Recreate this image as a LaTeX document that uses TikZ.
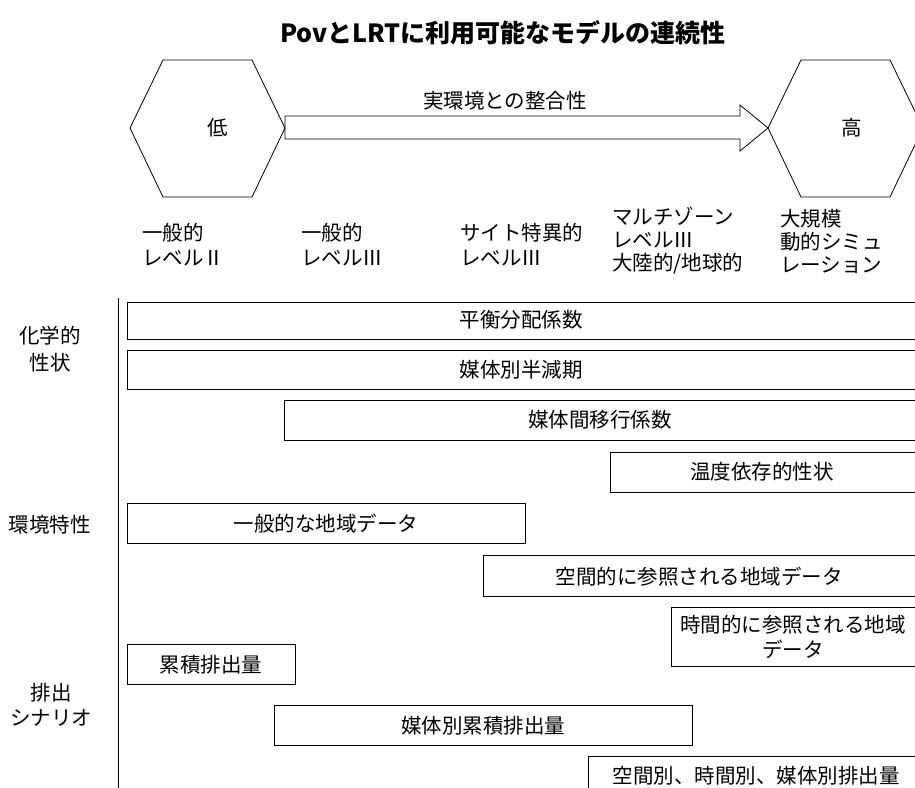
\documentclass[tikz,border=0pt]{standalone}
\usepackage{fontspec}
\setmainfont{Noto Sans CJK JP}
\usetikzlibrary{shadows}

\tikzset{
  bar/.style={draw, line width=0.9pt, fill=white, anchor=north west, inner sep=0pt,
    drop shadow={shadow xshift=1pt, shadow yshift=-1pt, fill=black!60, opacity=0.7}},
  txt/.style={inner sep=0pt, font=\fontsize{20.5}{24}\selectfont},
  hdr/.style={txt, anchor=west, align=left, font=\fontsize{20.5}{23}\selectfont}
}

\begin{document}
\begin{tikzpicture}[x=1pt,y=1pt,yscale=-1]
\clip (0,0) rectangle (915,787);
\fill [white] (0,0) rectangle (915,787);

% Title
\node (title) [txt, font=\bfseries\fontsize{25}{29}\selectfont] at (503,33) {PovとLRTに利用可能なモデルの連続性};

%Shape: Hexagon (low)
\draw [line width=0.8pt] (130,128) -- (163,60) -- (252,60) -- (285,128) -- (252,197) -- (163,197) -- cycle ;
%Shape: Hexagon (high)
\draw [line width=0.8pt] (768,128) -- (801,60) -- (890,60) -- (923,128) -- (890,197) -- (801,197) -- cycle ;
%Shape: Right Arrow
\draw [line width=0.8pt] (285,116) -- (740,116) -- (740,105) -- (768,128) -- (740,151) -- (740,139) -- (285,139) -- cycle ;

% Text Node
\node (low) [txt] at (218,128) {低};
\node (high) [txt] at (852,128) {高};
\node (fit) [txt] at (505,101) {実環境との整合性};

% Column headers
\node (c1) [hdr] at (142,245) {一般的\\[2pt]レベルⅡ};
\node (c2) [hdr] at (301,245) {一般的\\[2pt]レベルⅢ};
\node (c3) [hdr] at (460,245) {サイト特異的\\[2pt]レベルⅢ};
\node (c4) [hdr] at (612,241) {マルチゾーン\\レベルⅢ\\大陸的/地球的};
\node (c5) [hdr] at (780,241) {大規模\\動的シミュ\\レーション};

% Row labels
\draw [line width=0.8pt] (118,298) -- (118,790) ;
\node (chem) [txt, align=center, font=\fontsize{20.5}{27}\selectfont] at (50,349) {化学的\\性状};
\node (env) [txt] at (50,525) {環境特性};
\node (emit) [txt, align=center, font=\fontsize{20.5}{25}\selectfont] at (51,705) {排出\\シナリオ};

% Bars
\node (kd)   [bar, minimum width=800, minimum height=37] at (127,302) {};
\node (hl)   [bar, minimum width=800, minimum height=39] at (127,350) {};
\node (tr)   [bar, minimum width=640, minimum height=40] at (284,400) {};
\node (tmp)  [bar, minimum width=320, minimum height=40] at (610,452) {};
\node (gen)  [bar, minimum width=398, minimum height=40] at (127,503) {};
\node (spr)  [bar, minimum width=440, minimum height=41] at (483,555) {};
\node (tpr)  [bar, minimum width=260, minimum height=59] at (671,607) {};
\node (cum)  [bar, minimum width=168, minimum height=40] at (127,644) {};
\node (mcum) [bar, minimum width=418, minimum height=40] at (274,705) {};
\node (stm)  [bar, minimum width=340, minimum height=45] at (588,756) {};

% Text Node
\node [txt] at (521,320) {平衡分配係数};
\node [txt] at (521,370) {媒体別半減期};
\node [txt] at (600,420) {媒体間移行係数};
\node [txt] at (762,472) {温度依存的性状};
\node [txt] at (326,524) {一般的な地域データ};
\node [txt] at (699,577) {空間的に参照される地域データ};
\node [txt, align=center, font=\fontsize{20.5}{25}\selectfont] at (793,637) {時間的に参照される地域\\データ};
\node [txt] at (211,665) {累積排出量};
\node [txt] at (483,726) {媒体別累積排出量};
\node [txt] at (756,776) {空間別、時間別、媒体別排出量};

\end{tikzpicture}
\end{document}
